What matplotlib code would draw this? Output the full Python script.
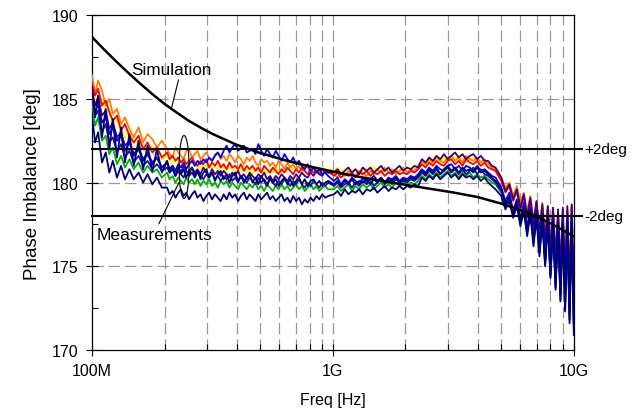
import matplotlib
matplotlib.use("Agg")
import matplotlib.pyplot as plt
from matplotlib.patches import Ellipse
from matplotlib.transforms import ScaledTranslation
from matplotlib.ticker import FixedLocator, NullFormatter

plt.rcParams['font.family'] = ['Liberation Sans', 'DejaVu Sans']

# ---------------- data ----------------
# frequency grid (MHz), four bands
freq_a = [100, 103, 106, 110, 114, 118, 122, 127, 132, 137, 143, 149, 156, 163, 170, 178, 186, 195]
freq_b = [205, 210, 216, 222, 228, 234, 240, 246, 253, 260,
          267, 274, 282, 290, 298, 306, 315, 324, 333, 342,
          352, 362, 372, 382, 393, 404, 415, 427, 439, 451,
          464, 477, 490, 504, 518, 533, 548, 563, 579, 595,
          612, 629, 647, 665, 684, 703, 723, 743, 764, 786,
          808, 831, 854, 878, 903, 929, 955]
freq_c = [1010, 1045, 1080, 1120, 1160, 1200, 1240, 1285, 1330, 1380,
          1430, 1480, 1530, 1585, 1640, 1700, 1760, 1825, 1890, 1960,
          2030, 2105, 2180, 2260, 2340, 2425, 2510, 2600, 2690, 2790,
          2890, 2995, 3100, 3215, 3330, 3450, 3570, 3700, 3830, 3970,
          4110, 4260, 4410, 4570, 4730]
freq_d = [5000, 5200, 5400, 5600, 5800, 6000, 6200, 6400, 6600, 6800, 7000, 7200, 7400, 7600, 7800,
          8000, 8200, 8400, 8600, 8800, 9000, 9200, 9400, 9600, 9800, 10000]

# ---- orange trace
orange_a = [186.4, 185.3, 186.1, 185.5, 184.6, 185.0, 184.1, 184.4, 183.5, 183.9, 183.2, 182.7, 183.3, 182.4, 182.9, 182.6, 182.1, 182.5]
orange_b = [182.0, 181.7, 181.5, 182.1, 181.8, 181.6, 181.4, 181.9, 182.0, 181.5,
            181.7, 181.9, 181.4, 181.6, 181.8, 181.5, 181.3, 181.7, 181.8, 181.4,
            181.6, 181.3, 181.7, 181.5, 181.2, 181.6, 181.4, 181.1, 181.5, 181.3,
            181.6, 181.2, 181.0, 181.4, 181.2, 181.3, 181.0, 181.2, 180.9, 181.3,
            181.1, 180.8, 181.2, 180.9, 181.1, 180.8, 181.0, 180.7, 181.0, 180.9,
            180.6, 180.9, 180.7, 180.8, 180.5, 180.7, 180.6]
orange_c = [180.5, 180.3, 180.6, 180.4, 180.7, 180.5, 180.4, 180.7, 180.6, 180.4,
            180.7, 180.5, 180.8, 180.6, 180.9, 180.6, 180.8, 180.5, 180.7, 180.9,
            180.6, 180.8, 180.7, 181.0, 181.3, 181.1, 181.4, 181.2, 181.5, 181.3,
            181.2, 181.5, 181.6, 181.3, 181.5, 181.2, 181.6, 181.4, 181.3, 181.5,
            181.2, 181.4, 181.1, 180.9, 180.8]
orange_d = [180.3, 179.7, 180.0, 179.2, 179.8, 178.8, 179.4, 178.3, 179.2, 177.8, 178.9, 177.3, 178.8, 176.8, 178.6,
            176.2, 178.5, 175.7, 178.3, 175.2, 178.4, 174.7, 178.4, 174.2, 178.6, 173.8]

# ---- yellow trace
yellow_a = [185.7, 185.1, 184.5, 185.0, 184.1, 184.4, 183.5, 183.8, 183.2, 182.7, 183.1, 182.3, 182.6, 182.0, 181.7, 182.2, 181.6, 181.4]
yellow_b = [181.6, 181.3, 181.1, 181.5, 181.2, 181.0, 181.3, 181.1, 180.9, 181.3,
            181.0, 181.2, 180.8, 181.1, 180.9, 181.2, 180.8, 181.0, 180.7, 181.1,
            180.9, 180.7, 181.0, 180.8, 180.6, 180.9, 180.7, 181.0, 180.6, 180.8,
            180.5, 180.9, 180.7, 180.6, 180.9, 180.5, 180.8, 180.6, 180.9, 180.7,
            180.6, 180.9, 180.7, 181.0, 180.8, 180.7, 181.0, 180.8, 180.9, 181.0,
            180.7, 180.9, 180.8, 180.6, 180.9, 180.7, 180.8]
yellow_c = [180.7, 180.9, 180.6, 180.8, 180.9, 180.6, 180.8, 180.7, 180.9, 180.6,
            180.8, 180.9, 180.7, 180.8, 180.6, 180.9, 180.7, 180.8, 180.6, 180.8,
            180.9, 180.7, 180.9, 180.8, 181.2, 181.0, 181.3, 181.1, 181.4, 181.2,
            181.5, 181.2, 181.4, 181.6, 181.3, 181.5, 181.2, 181.4, 181.5, 181.2,
            181.3, 181.1, 181.2, 180.9, 180.9]
yellow_d = [180.4, 179.6, 180.0, 179.1, 179.6, 178.7, 179.3, 178.1, 179.0, 177.6, 178.8, 177.0, 178.7, 176.5, 178.4,
            176.0, 178.3, 175.5, 178.1, 175.0, 178.2, 174.5, 178.2, 174.0, 178.4, 173.6]

# ---- red trace
red_a = [185.9, 185.2, 185.6, 184.6, 184.9, 184.2, 183.7, 184.0, 183.1, 183.5, 182.8, 182.4, 182.8, 182.0, 182.4, 181.8, 182.1, 181.5]
red_b = [181.8, 181.4, 181.6, 181.3, 181.5, 181.2, 181.4, 181.1, 181.3, 181.5,
         181.2, 181.0, 181.3, 181.1, 181.4, 180.9, 181.2, 181.0, 181.3, 180.9,
         181.1, 180.8, 181.2, 180.9, 181.0, 180.8, 181.1, 180.7, 181.0, 180.8,
         181.0, 180.7, 180.9, 180.6, 181.0, 180.8, 180.6, 180.9, 180.7, 180.5,
         180.8, 180.6, 180.9, 180.7, 180.5, 180.8, 180.6, 180.9, 180.7, 180.5,
         180.8, 180.6, 180.7, 180.5, 180.8, 180.6, 180.7]
red_c = [180.4, 180.6, 180.3, 180.5, 180.4, 180.6, 180.3, 180.6, 180.5, 180.7,
         180.4, 180.6, 180.5, 180.7, 180.4, 180.6, 180.5, 180.7, 180.5, 180.6,
         180.5, 180.7, 180.6, 180.8, 181.1, 180.9, 181.2, 181.0, 181.3, 181.1,
         181.0, 181.3, 181.4, 181.1, 181.3, 181.0, 181.4, 181.2, 181.1, 181.3,
         181.0, 181.2, 180.9, 180.8, 180.7]
red_d = [180.1, 179.4, 179.8, 178.9, 179.5, 178.4, 179.2, 177.9, 178.9, 177.3, 178.8, 176.8, 178.5, 176.2, 178.4,
         175.6, 178.2, 175.0, 178.1, 174.4, 178.1, 173.8, 178.3, 173.3, 178.6, 172.9]

# ---- blue trace
blue_a = [185.3, 184.2, 184.7, 183.6, 183.9, 182.9, 183.3, 182.5, 182.8, 181.9, 182.4, 181.6, 182.0, 181.3, 181.7, 181.1, 181.5, 180.9]
blue_b = [181.2, 180.8, 181.0, 180.7, 181.1, 180.9, 181.2, 180.8, 181.1, 181.3,
          181.0, 181.3, 181.1, 181.4, 181.2, 181.5, 181.3, 181.6, 181.8, 181.5,
          181.9, 182.2, 181.8, 182.1, 182.3, 181.9, 182.1, 182.2, 181.8, 181.9,
          182.0, 181.7, 182.3, 181.9, 181.6, 182.0, 181.7, 181.5, 181.9, 181.6,
          181.3, 181.7, 181.4, 181.2, 181.5, 181.1, 181.3, 181.0, 180.8, 181.1,
          180.7, 180.9, 180.6, 180.8, 180.5, 180.6, 180.4]
blue_c = [180.1, 180.3, 179.9, 180.2, 180.0, 180.3, 180.1, 179.9, 180.3, 180.0,
          180.2, 180.4, 180.1, 180.3, 180.0, 180.3, 180.2, 180.4, 180.1, 180.3,
          180.2, 180.4, 180.3, 180.5, 180.8, 180.6, 180.9, 180.7, 181.0, 180.8,
          180.7, 181.0, 181.1, 180.8, 181.0, 180.7, 181.0, 180.9, 180.7, 181.0,
          180.7, 180.8, 180.6, 180.4, 180.3]
blue_d = [179.7, 178.9, 179.4, 178.3, 179.0, 177.8, 178.8, 177.3, 178.5, 176.8, 178.3, 176.2, 178.1, 175.6, 177.9,
          175.0, 177.8, 174.3, 177.7, 173.7, 177.7, 173.1, 177.8, 172.5, 177.9, 172.0]

# ---- purple trace
purple_a = [185.5, 184.6, 185.1, 184.0, 184.3, 183.2, 183.6, 182.7, 183.0, 182.2, 182.5, 181.7, 182.1, 181.4, 181.8, 181.2, 181.5, 180.9]
purple_b = [181.2, 180.8, 181.0, 180.7, 180.9, 180.6, 181.0, 180.7, 180.5, 180.9,
            180.6, 180.8, 180.5, 180.9, 180.6, 180.4, 180.8, 180.5, 180.7, 180.4,
            180.7, 180.5, 180.3, 180.6, 180.4, 180.7, 180.3, 180.5, 180.2, 180.6,
            180.4, 180.2, 180.5, 180.3, 180.6, 180.2, 180.4, 180.1, 180.4, 180.2,
            180.5, 180.3, 180.1, 180.4, 180.2, 180.5, 180.3, 180.6, 180.4, 180.3,
            180.6, 180.4, 180.7, 180.5, 180.4, 180.7, 180.6]
purple_c = [180.6, 180.8, 180.5, 180.7, 180.9, 180.6, 180.8, 180.5, 180.9, 180.7,
            180.9, 180.6, 180.8, 181.0, 180.7, 180.9, 180.6, 180.8, 181.0, 180.7,
            180.9, 180.8, 181.0, 180.9, 181.4, 181.2, 181.5, 181.3, 181.6, 181.4,
            181.7, 181.4, 181.6, 181.8, 181.5, 181.7, 181.4, 181.6, 181.7, 181.4,
            181.6, 181.3, 181.3, 181.0, 180.9]
purple_d = [180.3, 179.5, 179.9, 179.0, 179.6, 178.5, 179.3, 178.0, 179.1, 177.5, 178.9, 177.0, 178.7, 176.5, 178.6,
            175.9, 178.5, 175.3, 178.4, 174.7, 178.5, 174.1, 178.6, 173.5, 178.7, 173.0]

# ---- navy trace 1
navy1_a = [185.7, 183.9, 185.2, 182.7, 184.4, 182.0, 183.8, 181.5, 183.3, 181.2, 182.9, 181.0, 182.5, 180.8, 182.2, 180.7, 182.0, 180.6]
navy1_b = [181.3, 180.6, 180.9, 180.4, 181.0, 180.5, 180.8, 180.3, 180.7, 180.9,
           180.4, 180.7, 180.2, 180.6, 180.8, 180.3, 180.6, 180.1, 180.5, 180.7,
           180.2, 180.5, 180.0, 180.4, 180.6, 180.1, 180.4, 180.0, 180.3, 180.5,
           180.0, 180.3, 179.9, 180.4, 180.1, 179.8, 180.3, 180.0, 180.2, 179.8,
           180.1, 180.3, 179.9, 180.2, 179.8, 180.1, 180.3, 179.9, 180.2, 179.8,
           180.1, 180.2, 179.9, 180.1, 179.8, 180.0, 180.1]
navy1_c = [179.9, 180.1, 179.8, 180.1, 179.9, 180.2, 179.9, 180.1, 180.0, 180.2,
           179.9, 180.2, 180.0, 180.3, 180.0, 180.2, 180.1, 180.3, 180.0, 180.2,
           180.1, 180.3, 180.2, 180.4, 180.7, 180.5, 180.8, 180.6, 180.9, 180.5,
           180.8, 181.0, 180.7, 180.9, 180.6, 180.9, 180.7, 180.8, 180.6, 180.9,
           180.6, 180.7, 180.5, 180.3, 180.1]
navy1_d = [179.6, 178.7, 179.2, 178.1, 178.9, 177.6, 178.6, 177.0, 178.4, 176.4, 178.2, 175.8, 178.0, 175.1, 177.8,
           174.4, 177.7, 173.7, 177.6, 173.0, 177.6, 172.4, 177.7, 171.8, 177.8, 171.3]

# ---- navy trace 3
navy3_a = [185.2, 184.0, 184.3, 183.0, 183.5, 182.4, 182.7, 181.8, 182.3, 181.5, 181.9, 181.2, 181.6, 181.0, 181.3, 180.8, 181.1, 180.7]
navy3_b = [180.9, 180.6, 180.8, 180.4, 180.7, 180.5, 180.3, 180.7, 180.4, 180.6,
           180.3, 180.6, 180.4, 180.2, 180.5, 180.3, 180.6, 180.2, 180.4, 180.1,
           180.4, 180.2, 180.5, 180.1, 180.3, 180.0, 180.4, 180.2, 180.0, 180.3,
           180.1, 179.9, 180.3, 180.0, 180.2, 179.9, 180.2, 180.0, 179.8, 180.1,
           179.9, 180.2, 180.0, 179.8, 180.1, 179.9, 180.2, 179.9, 179.7, 180.0,
           179.8, 180.1, 179.9, 179.7, 180.0, 179.8, 180.0]
navy3_c = [179.8, 180.0, 179.7, 179.9, 180.0, 179.7, 180.0, 179.8, 180.1, 179.9,
           180.1, 179.8, 180.0, 180.2, 179.9, 180.1, 179.9, 180.2, 180.0, 180.1,
           180.0, 180.2, 180.1, 180.3, 180.6, 180.4, 180.7, 180.5, 180.8, 180.5,
           180.7, 180.9, 180.6, 180.8, 180.5, 180.8, 180.5, 180.7, 180.9, 180.5,
           180.8, 180.5, 180.4, 180.2, 180.0]
navy3_d = [179.5, 178.8, 179.1, 178.2, 178.8, 177.7, 178.5, 177.1, 178.3, 176.6, 178.1, 176.0, 177.9, 175.3, 177.7,
           174.6, 177.6, 173.9, 177.5, 173.3, 177.5, 172.7, 177.6, 172.1, 177.7, 171.6]

# ---- green trace
green_a = [184.8, 183.4, 183.9, 182.5, 182.8, 181.7, 182.1, 181.1, 181.6, 180.9, 181.4, 180.8, 181.2, 180.6, 181.0, 180.6, 180.8, 180.3]
green_b = [180.6, 180.2, 180.4, 180.0, 180.3, 180.1, 179.9, 180.3, 180.0, 180.2,
           179.9, 180.2, 179.8, 180.1, 179.9, 180.2, 179.8, 180.0, 179.7, 180.1,
           179.9, 180.1, 179.7, 180.0, 179.8, 179.6, 180.0, 179.8, 179.6, 179.9,
           179.7, 180.0, 179.6, 179.8, 179.5, 179.9, 179.7, 179.5, 179.8, 179.6,
           179.9, 179.6, 179.8, 179.5, 179.7, 179.9, 179.6, 179.8, 179.5, 179.7,
           179.9, 179.6, 179.8, 179.5, 179.7, 179.8, 179.6]
green_c = [179.6, 179.8, 179.5, 179.7, 179.9, 179.5, 179.8, 179.6, 179.9, 179.7,
           179.9, 179.6, 179.8, 180.0, 179.7, 179.9, 179.7, 180.0, 179.8, 180.0,
           179.8, 180.0, 179.9, 180.1, 180.4, 180.2, 180.5, 180.3, 180.6, 180.3,
           180.5, 180.7, 180.4, 180.6, 180.3, 180.6, 180.4, 180.6, 180.3, 180.5,
           180.3, 180.4, 180.2, 180.0, 179.9]
green_d = [179.4, 178.7, 179.0, 178.2, 178.7, 177.7, 178.5, 177.2, 178.3, 176.7, 178.1, 176.1, 177.9, 175.5, 177.8,
           174.9, 177.6, 174.2, 177.5, 173.6, 177.5, 173.0, 177.6, 172.4, 177.7, 171.9]

# ---- navy trace 2 (lowest)
navy2_a = [184.0, 182.4, 183.0, 181.2, 181.8, 180.6, 181.3, 180.3, 181.0, 180.2, 180.8, 180.2, 180.6, 180.0, 180.5, 179.9, 180.3, 179.7]
navy2_b = [179.7, 179.3, 179.5, 179.1, 179.4, 179.6, 179.2, 179.4, 179.0, 179.3,
           179.5, 179.1, 179.3, 178.9, 179.2, 179.4, 179.0, 179.3, 179.1, 178.9,
           179.3, 179.0, 179.4, 179.1, 179.3, 178.9, 179.2, 179.4, 179.0, 179.3,
           179.1, 178.9, 179.3, 179.0, 179.2, 179.4, 179.0, 179.2, 178.9, 179.1,
           179.3, 178.9, 179.1, 178.8, 179.2, 178.9, 179.1, 178.7, 179.0, 178.8,
           179.1, 178.9, 179.2, 179.0, 179.3, 179.1, 179.2]
navy2_c = [179.3, 179.5, 179.2, 179.6, 179.3, 179.5, 179.4, 179.6, 179.3, 179.6,
           179.5, 179.7, 179.4, 179.6, 179.8, 179.5, 179.7, 179.6, 179.8, 179.6,
           179.8, 179.7, 179.9, 179.8, 180.3, 180.1, 180.4, 180.2, 180.5, 180.2,
           180.4, 180.6, 180.3, 180.5, 180.2, 180.5, 180.3, 180.4, 180.2, 180.4,
           180.1, 180.3, 180.0, 179.8, 179.6]
navy2_d = [179.2, 178.4, 178.9, 177.9, 178.6, 177.4, 178.3, 176.8, 178.1, 176.2, 177.9, 175.6, 177.7, 175.0, 177.5,
           174.3, 177.4, 173.6, 177.3, 172.9, 177.3, 172.3, 177.4, 171.6, 177.6, 170.9]

# ---- simulation
sim_freq_mhz = [100, 112.2, 125.9, 141.3, 158.5, 177.8, 199.5, 223.9, 251, 281.8, 316, 398, 501, 631, 794,
                1000, 1259, 1585, 1995, 2512, 3162, 3981, 5012, 5623, 6310, 7079, 7943, 8913, 10000]
sim_deg = [188.69, 187.95, 187.24, 186.56, 185.91, 185.29, 184.71, 184.2, 183.71, 183.29, 182.91, 182.26, 181.76, 181.34, 180.98,
           180.66, 180.37, 180.11, 179.87, 179.64, 179.41, 179.14, 178.74, 178.5, 178.24, 177.93, 177.59, 177.2, 176.79]

limit_upper = 182
limit_lower = 178

x_tick_vals = [1e8, 1e9, 1e10]
x_tick_labels = ['100M', '1G', '10G']

freq_mhz = freq_a + freq_b + freq_c + freq_d
series = [
    (yellow_a + yellow_b + yellow_c + yellow_d, '#FFFF00'),
    (orange_a + orange_b + orange_c + orange_d, '#FF8000'),
    (red_a + red_b + red_c + red_d, '#FF0000'),
    (green_a + green_b + green_c + green_d, '#00B000'),
    (purple_a + purple_b + purple_c + purple_d, '#40007F'),
    (blue_a + blue_b + blue_c + blue_d, '#0000FF'),
    (navy3_a + navy3_b + navy3_c + navy3_d, '#1A1A90'),
    (navy1_a + navy1_b + navy1_c + navy1_d, '#000080'),
    (navy2_a + navy2_b + navy2_c + navy2_d, '#00007A'),
]

# ---------------- figure ----------------
fig = plt.figure(figsize=(6.39, 4.14), dpi=100)
ax = fig.add_axes([0.144, 0.152, 0.754, 0.809])

freq_hz = [f * 1e6 for f in freq_mhz]
for vals, col in series:
    ax.plot(freq_hz, vals, color=col, lw=1.3, zorder=3)

ax.plot([f * 1e6 for f in sim_freq_mhz], sim_deg, color='black', lw=1.8, zorder=5)

ax.axhline(limit_upper, xmin=0, xmax=1.018, color='black', lw=1.5, clip_on=False, zorder=6)
ax.axhline(limit_lower, xmin=0, xmax=1.018, color='black', lw=1.5, clip_on=False, zorder=6)

ax.set_xscale('log')
ax.set_xlim(1e8, 1e10)
ax.set_ylim(170, 190)

ax.xaxis.set_major_locator(FixedLocator(x_tick_vals))
ax.set_xticklabels(x_tick_labels)
minor = [m * d for d in (1e8, 1e9) for m in range(2, 10)]
ax.xaxis.set_minor_locator(FixedLocator(minor))
ax.xaxis.set_minor_formatter(NullFormatter())
ax.set_yticks([170, 175, 180, 185, 190])
ax.set_yticks([172.5, 177.5, 182.5, 187.5], minor=True)

ax.tick_params(axis='both', which='major', direction='inout', length=9, width=0.8, labelsize=11.5, pad=5)
ax.tick_params(axis='both', which='minor', direction='in', length=4, width=0.8)

# grid
grid_kw = dict(color='#999999', lw=0.9, linestyle=(0, (9, 4)), zorder=1)
for gx in minor + [1e9]:
    ax.axvline(gx, **grid_kw)
for gy in [175, 180, 185]:
    ax.axhline(gy, **grid_kw)

for sp in ax.spines.values():
    sp.set_linewidth(0.9)

ax.set_xlabel('Freq [Hz]', fontsize=11.5, labelpad=10)
ax.set_ylabel('Phase Imbalance [deg]', fontsize=13.5, labelpad=8)

# labels for limits
ax.text(1.022, limit_upper, '+2deg', transform=ax.get_yaxis_transform(), fontsize=11,
        va='center', ha='left')
ax.text(1.022, limit_lower, '-2deg', transform=ax.get_yaxis_transform(), fontsize=11,
        va='center', ha='left')

# annotations
ax.annotate('Simulation', xy=(2.13e8, 184.35), xytext=(2.13e8, 186.75), fontsize=12.3,
            ha='center', va='center', zorder=7,
            arrowprops=dict(arrowstyle='-', color='black', lw=0.8, shrinkA=0, shrinkB=0,
                            relpos=(0.6, 0.0)))
ax.annotate('Measurements', xy=(2.30e8, 180.03), xytext=(1.81e8, 176.93), fontsize=12.6,
            ha='center', va='center', zorder=7,
            arrowprops=dict(arrowstyle='-', color='black', lw=0.8, shrinkA=0, shrinkB=0,
                            relpos=(0.53, 1.0)))
trans = fig.dpi_scale_trans + ScaledTranslation(2.41e8, 180.93, ax.transData)
ell = Ellipse((0, 0), width=0.10, height=0.63, transform=trans, fill=False,
              edgecolor='black', lw=0.8, zorder=7)
ax.add_patch(ell)

fig.savefig('out.png', dpi=100)
